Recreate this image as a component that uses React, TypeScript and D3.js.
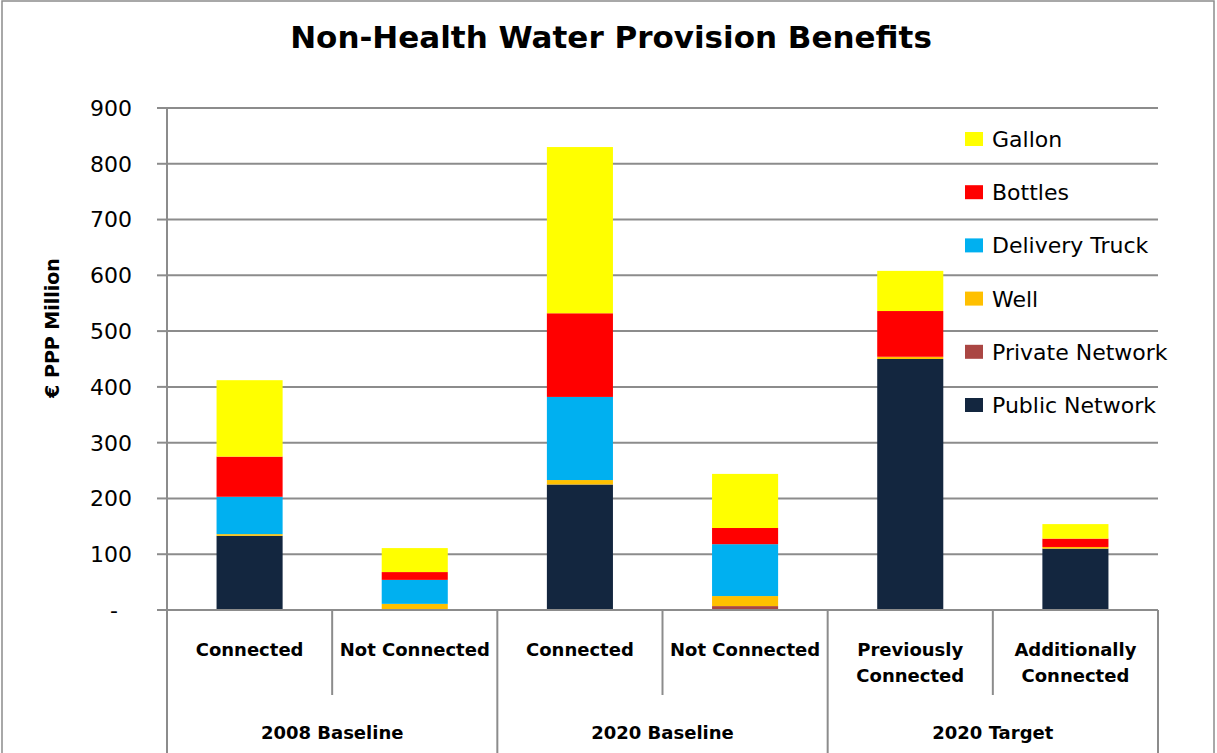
import React from "react";
import * as d3 from "d3";

// Sub-categories along the x axis, grouped by scenario
const categories = ["2008-C", "2008-NC", "2020B-C", "2020B-NC", "2020T-PC", "2020T-AC"];
const categoryLabels: string[][] = [
  ["Connected"],
  ["Not Connected"],
  ["Connected"],
  ["Not Connected"],
  ["Previously", "Connected"],
  ["Additionally", "Connected"],
];
const groups = ["2008 Baseline", "2020 Baseline", "2020 Target"];

// Benefit components, € PPP million (stacked bottom to top)
const publicNetwork = [133, 0, 225, 0, 450, 110];
const privateNetwork = [0, 0, 0, 7, 0, 0];
const well = [3, 11, 8, 18, 4, 3];
const deliveryTruck = [67, 43, 149, 93, 0, 0];
const bottles = [72, 14, 150, 29, 82, 15];
const gallon = [137, 43, 298, 97, 72, 26];

const seriesNames = ["Public Network", "Private Network", "Well", "Delivery Truck", "Bottles", "Gallon"];
const seriesValues = [publicNetwork, privateNetwork, well, deliveryTruck, bottles, gallon];
const seriesColors = ["#13263f", "#aa4643", "#ffc000", "#00b0f0", "#ff0000", "#ffff00"];

const yTicks = [0, 100, 200, 300, 400, 500, 600, 700, 800, 900];
const yTickLabels = ["-", "100", "200", "300", "400", "500", "600", "700", "800", "900"];

const W = 1217;
const H = 753;
const left = 167;
const right = 1158;
const top = 108;
const bottom = 610;
const FONT = "'DejaVu Sans', Verdana, sans-serif";
const GRID = "#8c8c8c";

export default function App() {
  const x = d3.scaleBand<string>().domain(categories).range([left, right]).paddingInner(0).paddingOuter(0);
  const y = d3.scaleLinear().domain([0, 900]).range([bottom, top]);

  const rows = categories.map((c, i) => {
    const r: Record<string, number | string> = { cat: c };
    seriesNames.forEach((s, k) => (r[s] = seriesValues[k][i]));
    return r;
  });
  const stacked = d3.stack<Record<string, number | string>>().keys(seriesNames)(rows as any);

  const bw = x.bandwidth();
  const barW = bw * 0.4;

  const legendItems = seriesNames.map((n, i) => ({ name: n, color: seriesColors[i] })).reverse();

  return (
    <svg
      width={W}
      height={H}
      style={{ position: "absolute", left: 0, top: 0, background: "#fff" }}
      fontFamily={FONT}
    >
      <rect x={2} y={1} width={1212} height={780} fill="#fff" stroke="#8c8c8c" strokeWidth={1.5} />

      <text x={611} y={48} textAnchor="middle" fontSize={31} fontWeight="bold" fill="#000">
        Non-Health Water Provision Benefits
      </text>

      {/* horizontal gridlines */}
      {yTicks.map((t) => (
        <line key={"g" + t} x1={left} x2={right} y1={y(t)} y2={y(t)} stroke={GRID} strokeWidth={2} />
      ))}

      {/* y axis */}
      <line x1={left} x2={left} y1={top} y2={bottom} stroke={GRID} strokeWidth={2} />
      {yTicks.map((t, i) => (
        <g key={"t" + t}>
          <line x1={left - 10} x2={left} y1={y(t)} y2={y(t)} stroke={GRID} strokeWidth={2} />
          <text
            x={t === 0 ? 118 : 132}
            y={y(t)}
            dy="0.36em"
            textAnchor="end"
            fontSize={22}
            fill="#000"
          >
            {yTickLabels[i]}
          </text>
        </g>
      ))}
      <text
        transform={`translate(59,328) rotate(-90)`}
        textAnchor="middle"
        fontSize={19}
        fontWeight="bold"
        fill="#000"
      >
        € PPP Million
      </text>

      {/* stacked bars */}
      {stacked.map((layer, k) => (
        <g key={layer.key} fill={seriesColors[k]}>
          {layer.map((d, i) => {
            const h = y(d[0]) - y(d[1]);
            if (h <= 0) return null;
            return (
              <rect
                key={i}
                x={(x(categories[i]) as number) + (bw - barW) / 2}
                y={y(d[1])}
                width={barW}
                height={h}
              />
            );
          })}
        </g>
      ))}

      {/* category axis */}
      <line x1={left} x2={right} y1={bottom} y2={bottom} stroke={GRID} strokeWidth={2} />
      {d3.range(categories.length + 1).map((i) => {
        const xx = i < categories.length ? (x(categories[i]) as number) : right;
        const isGroupEdge = i % 2 === 0;
        return (
          <line
            key={"s" + i}
            x1={xx}
            x2={xx}
            y1={bottom}
            y2={isGroupEdge ? H : 695}
            stroke={GRID}
            strokeWidth={2}
          />
        );
      })}
      {categories.map((c, i) => {
        const cx = (x(c) as number) + bw / 2;
        return (
          <text key={"c" + c} x={cx} y={656} textAnchor="middle" fontSize={18} fontWeight="bold" fill="#000">
            {categoryLabels[i].map((ln, j) => (
              <tspan key={j} x={cx} dy={j === 0 ? 0 : 26}>
                {ln}
              </tspan>
            ))}
          </text>
        );
      })}
      {groups.map((g, gi) => {
        const x0 = x(categories[gi * 2]) as number;
        const cx = x0 + bw;
        return (
          <text key={g} x={cx} y={739} textAnchor="middle" fontSize={18} fontWeight="bold" fill="#000">
            {g}
          </text>
        );
      })}

      {/* legend */}
      {legendItems.map((it, i) => {
        const cy = 139 + i * 53.2;
        return (
          <g key={it.name}>
            <rect x={965} y={cy - 7} width={18} height={14} fill={it.color} />
            <text x={992} y={cy} dy="0.36em" fontSize={22} fill="#000">
              {it.name}
            </text>
          </g>
        );
      })}
    </svg>
  );
}
